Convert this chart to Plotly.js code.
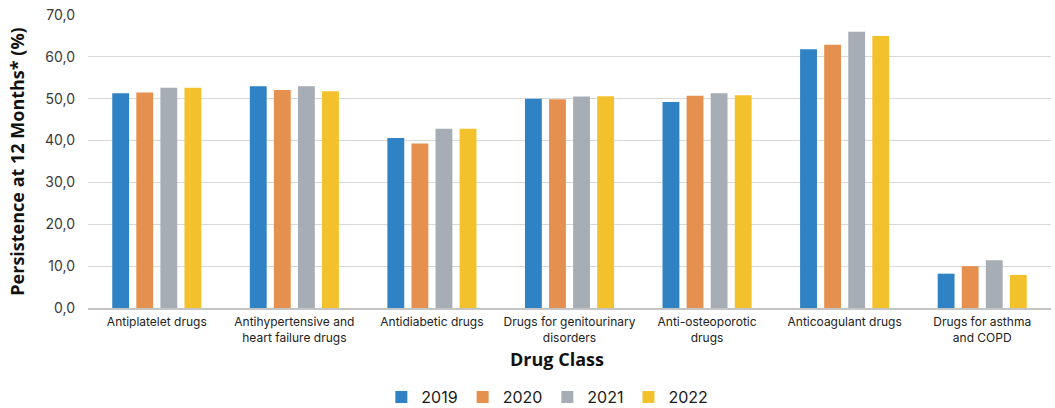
<!DOCTYPE html>
<html>
<head>
<meta charset="utf-8">
<script src="https://cdn.plot.ly/plotly-3.0.1.min.js"></script>
<style>html,body{margin:0;padding:0;background:#fff;}#chart{width:1055px;height:408px;}</style>
</head>
<body>
<div id="chart"></div>
<script>
const categories = [
  "Antiplatelet drugs",
  "Antihypertensive and<br>heart failure drugs",
  "Antidiabetic drugs",
  "Drugs for genitourinary<br>disorders",
  "Anti-osteoporotic<br>drugs",
  "Anticoagulant drugs",
  "Drugs for asthma<br>and COPD"
];
const years = ["2019", "2020", "2021", "2022"];
const v2019 = [51.3, 53.0, 40.6, 50.0, 49.2, 61.8, 8.2];
const v2020 = [51.5, 52.1, 39.3, 49.9, 50.7, 62.9, 10.0];
const v2021 = [52.6, 53.0, 42.8, 50.5, 51.3, 66.0, 11.4];
const v2022 = [52.6, 51.8, 42.8, 50.6, 50.8, 65.0, 7.9];
const yTicks = [0, 10, 20, 30, 40, 50, 60, 70];

const series = [v2019, v2020, v2021, v2022];
const colors = ["#2f82c4", "#e6904f", "#a7adb5", "#f3c12c"];

const data = series.map((vals, i) => ({
  type: "bar",
  name: years[i],
  x: categories,
  y: vals,
  marker: {color: colors[i]},
  hoverinfo: "none"
}));

const layout = {
  width: 1055,
  height: 408,
  margin: {l: 88, r: 4, t: 15, b: 100},
  paper_bgcolor: "#ffffff",
  plot_bgcolor: "#ffffff",
  separators: ",.",
  barmode: "group",
  bargap: 0.30,
  bargroupgap: 0.30,
  showlegend: true,
  legend: {
    orientation: "h",
    x: 0.477, xanchor: "center", xref: "paper",
    y: 0.027, yanchor: "middle", yref: "container",
    font: {family: "Inter, sans-serif", size: 16, color: "#1a1a1a"},
    itemwidth: 30,
    traceorder: "normal"
  },
  xaxis: {
    type: "category",
    tickfont: {family: "Inter, sans-serif", size: 12, color: "#222"},
    showline: true,
    linecolor: "#c4c4c4",
    linewidth: 1.5,
    ticks: "",
    automargin: false,
    ticklabelstandoff: 2
  },
  yaxis: {
    range: [0, 70],
    tickvals: yTicks,
    tickformat: ".1f",
    tickfont: {family: "Inter, sans-serif", size: 14, color: "#3a3a3a"},
    ticklabelstandoff: 12,
    gridcolor: "#d8d8d8",
    gridwidth: 1.2,
    zeroline: false,
    showline: false,
    automargin: false,
    title: {text: "<b>Persistence at 12 Months* (%)</b>", font: {family: "Open Sans, sans-serif", size: 18, color: "#111"}, standoff: 15}
  },
  annotations: [{
    text: "<b>Drug Class</b>",
    xref: "paper", yref: "paper",
    x: 0.487, y: (308 - 359) / 293,
    xanchor: "center", yanchor: "middle",
    showarrow: false,
    font: {family: "Open Sans, sans-serif", size: 18, color: "#111"}
  }],
  font: {family: "Inter, sans-serif"}
};

Plotly.newPlot("chart", data, layout, {displayModeBar: false, staticPlot: true});
</script>
</body>
</html>
